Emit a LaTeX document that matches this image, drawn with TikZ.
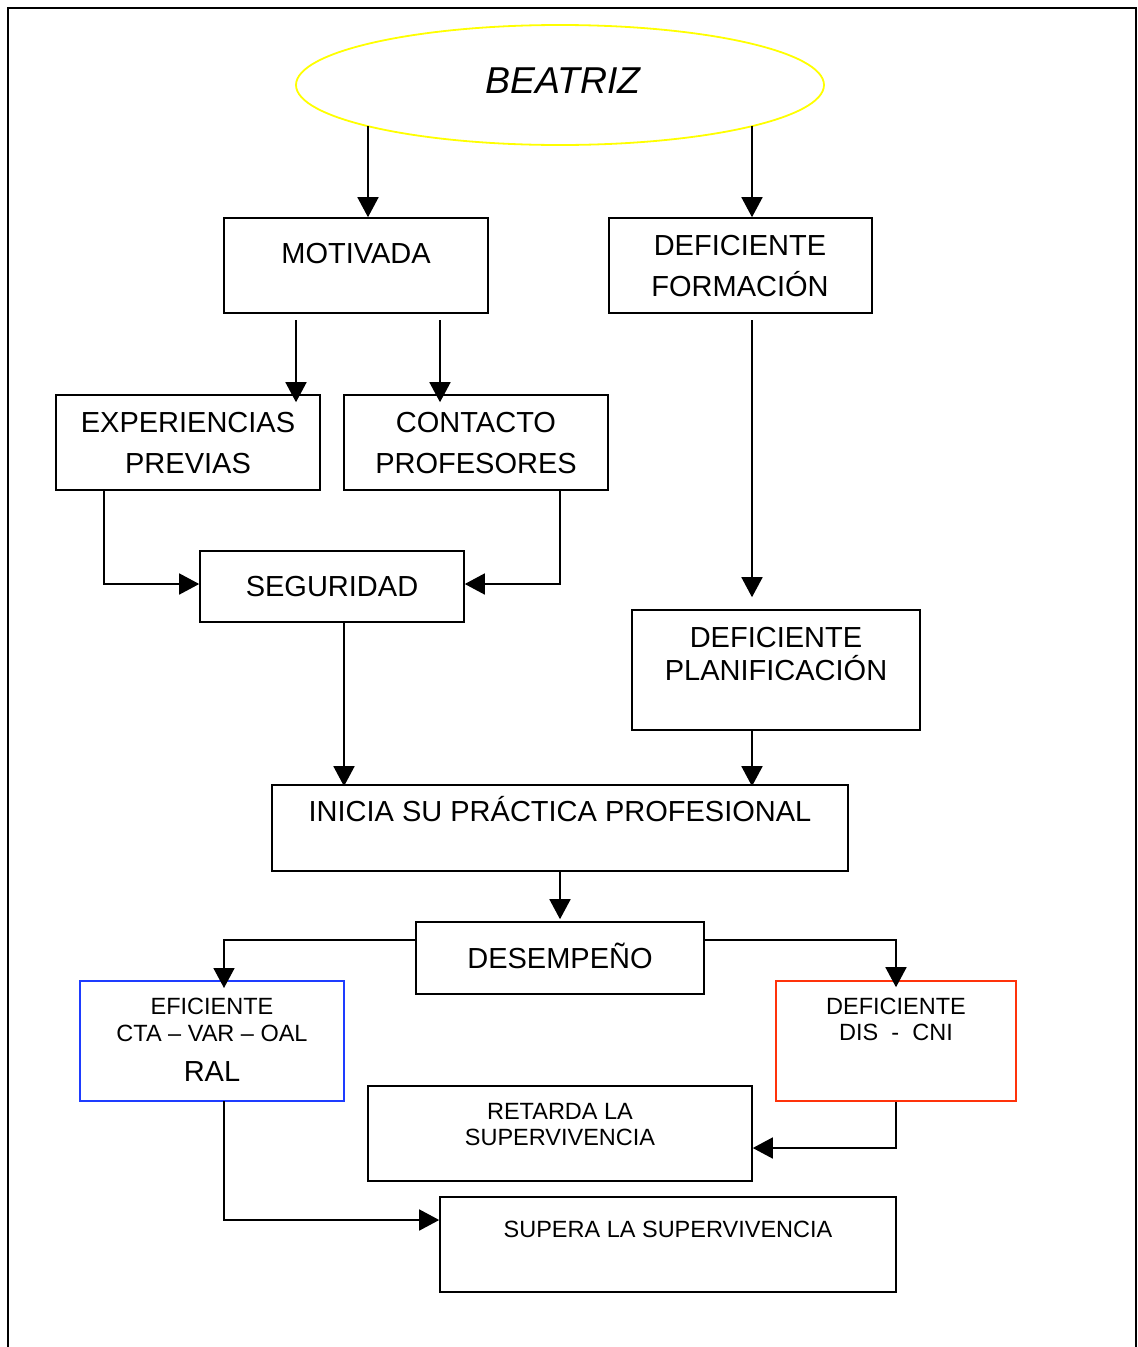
\documentclass[tikz,border=0pt]{standalone}
\usepackage{fontspec}
\setmainfont{Liberation Sans}
\usetikzlibrary{arrows.meta,calc,shapes.geometric}
\definecolor{ylw}{RGB}{255,255,0}
\definecolor{bl}{RGB}{30,60,255}
\definecolor{rd}{RGB}{255,50,10}
\begin{document}
\begin{tikzpicture}[x=1pt,y=-1pt,
  box/.style={draw, line width=1.6pt, inner sep=0pt},
  big/.style={font=\fontsize{29}{34}\selectfont, text height=21pt, text depth=0pt, inner sep=0pt},
  small/.style={font=\fontsize{23.5}{27}\selectfont, text height=17pt, text depth=0pt, inner sep=0pt},
  arr/.style={line width=1.6pt, -{Triangle[length=20pt,width=21pt]}},
  ln/.style={line width=1.6pt}]
\useasboundingbox (0,0) rectangle (1138,1347);
% frame
\draw[line width=2.6pt] (8,1347) -- (8,8) -- (1136,8) -- (1136,1347);
% ellipse
\node[ellipse, draw=ylw, line width=1.8pt, minimum width=528pt, minimum height=120pt, inner sep=0pt] (bea) at (560,85) {};
\node[font=\fontsize{37.4}{42}\selectfont\itshape, text height=27pt, text depth=0pt, inner sep=0pt] (bt) at (563,80) {BEATRIZ};
% boxes
\node[box, minimum width=264pt, minimum height=95pt] (mot) at (356,265.5) {};
\node[box, minimum width=263pt, minimum height=95pt] (def) at (740.5,265.5) {};
\node[box, minimum width=264pt, minimum height=95pt] (exp) at (188,442.5) {};
\node[box, minimum width=264pt, minimum height=95pt] (con) at (476,442.5) {};
\node[box, minimum width=264pt, minimum height=71pt] (seg) at (332,586.5) {};
\node[box, minimum width=288pt, minimum height=120pt] (pla) at (776,670) {};
\node[box, minimum width=576pt, minimum height=86pt] (ini) at (560,828) {};
\node[box, minimum width=288pt, minimum height=72pt] (des) at (560,958) {};
\node[box, draw=bl, minimum width=264pt, minimum height=120pt] (efi) at (212,1041) {};
\node[box, draw=rd, minimum width=240pt, minimum height=120pt] (dfi) at (896,1041) {};
\node[box, minimum width=384pt, minimum height=95pt] (ret) at (560,1133.5) {};
\node[box, minimum width=456pt, minimum height=95pt] (sup) at (668,1244.5) {};
% texts
\node[big] (tmot) at (356,253) {MOTIVADA};
\node[big] (tdef1) at (740,245) {DEFICIENTE};
\node[big] (tdef2) at (740,286) {FORMACIÓN};
\node[big] (texp1) at (188,422) {EXPERIENCIAS};
\node[big] (texp2) at (188,463) {PREVIAS};
\node[big] (tcon1) at (476,422) {CONTACTO};
\node[big] (tcon2) at (476,463) {PROFESORES};
\node[big] (tseg) at (332,586) {SEGURIDAD};
\node[big] (tpla1) at (776,637) {DEFICIENTE};
\node[big] (tpla2) at (776,670) {PLANIFICACIÓN};
\node[big] (tini) at (560,811) {INICIA SU PRÁCTICA PROFESIONAL};
\node[big] (tdes) at (560,958) {DESEMPEÑO};
\node[small] (tefi1) at (212,1006) {EFICIENTE};
\node[small] (tefi2) at (212,1033) {CTA – VAR – OAL};
\node[big] (tefi3) at (212,1071) {RAL};
\node[small] (tdfi1) at (896,1006) {DEFICIENTE};
\node[small] (tdfi2) at (896,1032) {DIS\ \ -\ \ CNI};
\node[small] (tret1) at (560,1111) {RETARDA LA};
\node[small] (tret2) at (560,1137) {SUPERVIVENCIA};
\node[small] (tsup) at (668,1229) {SUPERA LA SUPERVIVENCIA};
% connector start points
\coordinate (e1) at (368,126);
\coordinate (e2) at (752,126);
\coordinate (m1) at (296,320);
\coordinate (m2) at (440,320);
\coordinate (d1) at (752,320);
\coordinate (x1) at (104,490);
\coordinate (x2) at (560,490);
\coordinate (s1) at (344,622);
\coordinate (p1) at (752,730);
\coordinate (q1) at (224,988);
\coordinate (q2) at (224,1101);
% connectors
\draw[arr] (e1) -- (mot.north -| e1);
\draw[arr] (e2) -- (def.north -| e2);
\draw[arr] (m1) -- ($(exp.north -| m1)+(0,8)$);
\draw[arr] (m2) -- ($(con.north -| m2)+(0,8)$);
\draw[arr] (d1) -- ($(pla.north -| d1)+(0,-12)$);
\draw[arr] (x1) |- ($(seg.west)+(0,-2.5)$);
\draw[arr] (x2) |- ($(seg.east)+(0,-2.5)$);
\draw[arr] (s1) -- ($(ini.north -| s1)+(0,2)$);
\draw[arr] (p1) -- ($(ini.north -| p1)+(0,2)$);
\draw[arr] (ini.south) -- ($(des.north)+(0,-2)$);
\draw[arr] ($(des.west)+(0,-18)$) -| (q1);
\draw[arr] ($(des.east)+(0,-18)$) -| ($(dfi.north)+(0,7)$);
\draw[arr] (dfi.south) |- ($(ret.east)+(0,14.5)$);
\draw[arr] (q2) |- ($(sup.west)+(0,-24.5)$);
\end{tikzpicture}
\end{document}
